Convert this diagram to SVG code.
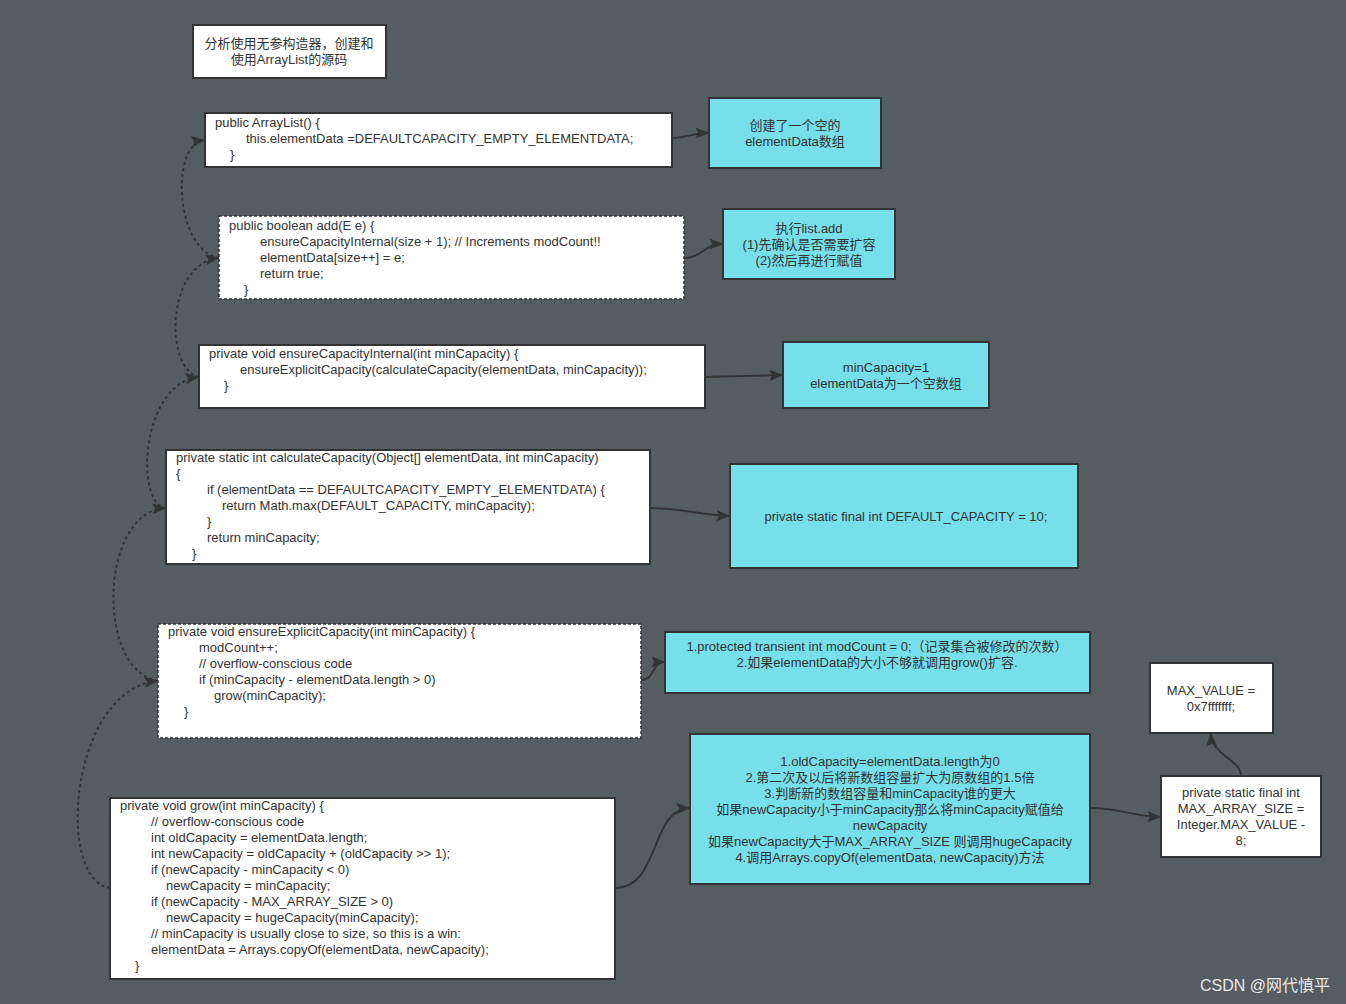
<svg xmlns="http://www.w3.org/2000/svg" width="1346" height="1004" viewBox="0 0 1346 1004">
<defs>
<marker id="ah" viewBox="0 0 10 10" refX="9" refY="5" markerWidth="10" markerHeight="10" markerUnits="userSpaceOnUse" orient="auto"><path d="M0,0 L10,5 L0,10 L3,5 Z" fill="#333"/></marker>
<marker id="ah2" viewBox="0 0 10 10" refX="9" refY="5" markerWidth="14" markerHeight="14" markerUnits="userSpaceOnUse" orient="auto"><path d="M0,1 L10,5 L0,9 L2,5 Z" fill="#333"/></marker>
</defs>
<style>
text{font-family:"Liberation Sans","Noto Sans CJK SC",sans-serif;font-size:13px;fill:#333}
.w{fill:#fff;stroke:#333;stroke-width:2}
.d{fill:#fff;stroke:#333;stroke-width:1.5;stroke-dasharray:3 2}
.c{fill:#76dfea;stroke:#333;stroke-width:2}
.m{text-anchor:middle}
.s{fill:none;stroke:#333;stroke-width:2;marker-end:url(#ah2)}
.k{fill:none;stroke:#333;stroke-width:2;stroke-dasharray:3 3;marker-end:url(#ah2)}
</style>
<rect width="1346" height="1004" fill="#565d61"/>
<g id="title"><rect class="w" x="193" y="25" width="193" height="53"/><text class="m" x="289" y="48">分析使用无参构造器，创建和</text><text class="m" x="289" y="64">使用ArrayList的源码</text></g>
<g id="b1"><rect class="w" x="205" y="113" width="467" height="54"/><text x="215" y="127">public ArrayList() {</text><text x="246" y="143">this.elementData =DEFAULTCAPACITY_EMPTY_ELEMENTDATA;</text><text x="230" y="159">}</text></g>
<g id="c1"><rect class="c" x="709" y="98" width="172" height="70"/><text class="m" x="795" y="130">创建了一个空的</text><text class="m" x="795" y="146">elementData数组</text></g>
<g id="b2"><rect class="d" x="219" y="216" width="465" height="83"/><text x="229" y="230">public boolean add(E e) {</text><text x="260" y="246">ensureCapacityInternal(size + 1);  // Increments modCount!!</text><text x="260" y="262">elementData[size++] = e;</text><text x="260" y="278">return true;</text><text x="244" y="294">}</text></g>
<g id="c2"><rect class="c" x="723" y="209" width="172" height="70"/><text class="m" x="809" y="233">执行list.add</text><text class="m" x="809" y="249">(1)先确认是否需要扩容</text><text class="m" x="809" y="265">(2)然后再进行赋值</text></g>
<g id="b3"><rect class="w" x="199" y="345" width="506" height="63"/><text x="209" y="358">private void ensureCapacityInternal(int minCapacity) {</text><text x="240" y="374">ensureExplicitCapacity(calculateCapacity(elementData, minCapacity));</text><text x="224" y="390">}</text></g>
<g id="c3"><rect class="c" x="783" y="342" width="206" height="66"/><text class="m" x="886" y="372">minCapacity=1</text><text class="m" x="886" y="388">elementData为一个空数组</text></g>
<g id="b4"><rect class="w" x="166" y="450" width="484" height="114"/><text x="176" y="462">private static int calculateCapacity(Object[] elementData, int minCapacity)</text><text x="176" y="478">{</text><text x="207" y="494">if (elementData == DEFAULTCAPACITY_EMPTY_ELEMENTDATA) {</text><text x="222" y="510">return Math.max(DEFAULT_CAPACITY, minCapacity);</text><text x="207" y="526">}</text><text x="207" y="542">return minCapacity;</text><text x="192" y="558">}</text></g>
<g id="c4"><rect class="c" x="730" y="464" width="348" height="104"/><text class="m" x="906" y="521">private static final int DEFAULT_CAPACITY = 10;</text></g>
<g id="b5"><rect class="d" x="158" y="624" width="483" height="114"/><text x="168" y="636">private void ensureExplicitCapacity(int minCapacity) {</text><text x="199" y="652">modCount++;</text><text x="199" y="668">// overflow-conscious code</text><text x="199" y="684">if (minCapacity - elementData.length &gt; 0)</text><text x="214" y="700">grow(minCapacity);</text><text x="184" y="716">}</text></g>
<g id="c5"><rect class="c" x="665" y="632" width="425" height="61"/><text class="m" x="877" y="651">1.protected transient int modCount = 0;（记录集合被修改的次数）</text><text class="m" x="877" y="667">2.如果elementData的大小不够就调用grow()扩容.</text></g>
<g id="b6"><rect class="w" x="110" y="798" width="505" height="181"/><text x="120" y="810">private void grow(int minCapacity) {</text><text x="151" y="826">// overflow-conscious code</text><text x="151" y="842">int oldCapacity = elementData.length;</text><text x="151" y="858">int newCapacity = oldCapacity + (oldCapacity &gt;&gt; 1);</text><text x="151" y="874">if (newCapacity - minCapacity &lt; 0)</text><text x="166" y="890">newCapacity = minCapacity;</text><text x="151" y="906">if (newCapacity - MAX_ARRAY_SIZE &gt; 0)</text><text x="166" y="922">newCapacity = hugeCapacity(minCapacity);</text><text x="151" y="938">// minCapacity is usually close to size, so this is a win:</text><text x="151" y="954">elementData = Arrays.copyOf(elementData, newCapacity);</text><text x="135" y="970">}</text></g>
<g id="c6"><rect class="c" x="690" y="734" width="400" height="150"/><text class="m" x="890" y="766">1.oldCapacity=elementData.length为0</text><text class="m" x="890" y="782">2.第二次及以后将新数组容量扩大为原数组的1.5倍</text><text class="m" x="890" y="798">3.判断新的数组容量和minCapacity谁的更大</text><text class="m" x="890" y="814">如果newCapacity小于minCapacity那么将minCapacity赋值给</text><text class="m" x="890" y="830">newCapacity</text><text class="m" x="890" y="846">如果newCapacity大于MAX_ARRAY_SIZE 则调用hugeCapacity</text><text class="m" x="890" y="862">4.调用Arrays.copyOf(elementData, newCapacity)方法</text></g>
<g id="maxv"><rect class="w" x="1150" y="663" width="123" height="70"/><text class="m" x="1211" y="695">MAX_VALUE =</text><text class="m" x="1211" y="711">0x7fffffff;</text></g>
<g id="maxa"><rect class="w" x="1161" y="776" width="160" height="81"/><text class="m" x="1241" y="797">private static final int</text><text class="m" x="1241" y="813">MAX_ARRAY_SIZE =</text><text class="m" x="1241" y="829">Integer.MAX_VALUE -</text><text class="m" x="1241" y="845">8;</text></g>
<g id="connectors">
<path class="s" d="M672,138 C688,138 690,133 708,133"/>
<path class="s" d="M684,258 C702,258 704,244 722,244"/>
<path class="s" d="M705,377 L782,375"/>
<path class="s" d="M650,508 C680,508 700,515 729,516"/>
<path class="s" d="M641,680 C655,680 652,662 664,662"/>
<path class="s" d="M615,888 C660,888 650,810 689,808"/>
<path class="s" d="M1090,808 C1120,808 1130,816 1160,817"/>
<path class="s" d="M1241,776 C1241,760 1212,755 1211,734"/>
<path class="k" d="M219,258 C175,250 170,145 204,140"/>
<path class="k" d="M199,377 C165,370 165,265 218,258"/>
<path class="k" d="M166,508 C135,505 140,385 198,377"/>
<path class="k" d="M158,681 C95,670 100,512 165,508"/>
<path class="k" d="M110,888 C55,880 70,690 157,681"/>
</g>
<text x="1330" y="991" style="text-anchor:end;fill:#e8e8e8;font-size:16px">CSDN @网代慎平</text>
</svg>
